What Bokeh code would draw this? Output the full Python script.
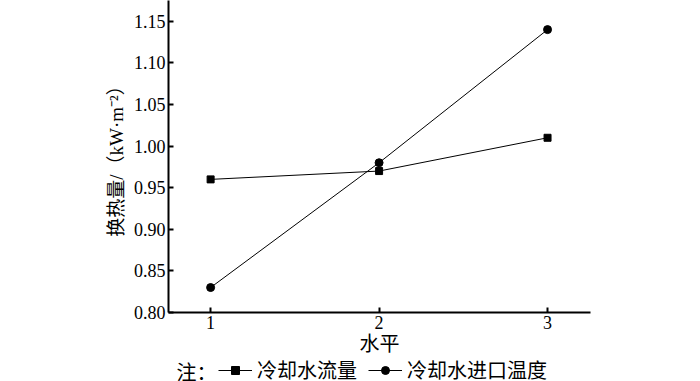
from bokeh.plotting import figure
from bokeh.layouts import column
from bokeh.models import FixedTicker, PrintfTickFormatter, Legend, LegendItem, Label, ColumnDataSource
from bokeh.embed import file_html
from bokeh.resources import INLINE

levels = [1, 2, 3]
flow_rate = [0.96, 0.97, 1.01]          # 冷却水流量
inlet_temp = [0.83, 0.98, 1.14]         # 冷却水进口温度
y_ticks = [0.80, 0.85, 0.90, 0.95, 1.00, 1.05, 1.10, 1.15]
x_label = "水平"
y_label = "换热量/（kW·m⁻²）"
series_names = ["冷却水流量", "冷却水进口温度"]
note_text = "注："

SERIF = "'Liberation Serif', 'Times New Roman', serif"
MIXED = "'Liberation Serif', 'Noto Sans CJK SC', serif"
CJK = "'Noto Sans CJK SC', sans-serif"

p = figure(width=700, height=358, x_range=(0.75, 3.255), y_range=(0.80, 1.175),
           output_backend="svg", toolbar_location=None,
           min_border_left=168, min_border_right=110, min_border_top=0, min_border_bottom=46)
p.outline_line_color = None
p.xgrid.visible = False
p.ygrid.visible = False

src1 = ColumnDataSource(dict(x=levels, y=flow_rate))
src2 = ColumnDataSource(dict(x=levels, y=inlet_temp))
p.line("x", "y", source=src1, line_color="black", line_width=1)
p.scatter("x", "y", source=src1, marker="square", size=7, fill_color="black", line_color="black")
p.line("x", "y", source=src2, line_color="black", line_width=1)
p.scatter("x", "y", source=src2, marker="circle", size=8, fill_color="black", line_color="black")

for ax in (p.xaxis[0], p.yaxis[0]):
    ax.axis_line_color = "black"
    ax.axis_line_width = 2
    ax.major_tick_line_color = "black"
    ax.major_tick_line_width = 2
    ax.major_tick_in = 5
    ax.major_tick_out = 0
    ax.minor_tick_line_color = None
    ax.major_label_text_font = SERIF
    ax.major_label_text_font_size = "18px"
    ax.major_label_text_color = "black"
    ax.axis_label_text_font = MIXED
    ax.axis_label_text_font_style = "normal"
    ax.axis_label_text_color = "black"

p.xaxis.ticker = FixedTicker(ticks=levels)
p.yaxis.ticker = FixedTicker(ticks=y_ticks)
p.yaxis.formatter = PrintfTickFormatter(format="%.2f")
p.xaxis.major_label_standoff = 3
p.yaxis.major_label_standoff = 3
p.xaxis.axis_label = x_label
p.xaxis.axis_label_text_font_size = "20px"
p.xaxis.axis_label_standoff = 1
p.yaxis.axis_label = y_label
p.yaxis.axis_label_text_font_size = "19px"
p.yaxis.axis_label_standoff = 4

# legend strip below the chart (its frame is aligned with the chart frame: x 168..590)
lf = figure(width=700, height=23, x_range=(0, 422), y_range=(0, 23),
            output_backend="svg", toolbar_location=None,
            x_axis_type=None, y_axis_type=None,
            min_border_left=168, min_border_right=110, min_border_top=0, min_border_bottom=0)
lf.outline_line_color = None
lf.xgrid.visible = False
lf.ygrid.visible = False
nan = float("nan")
proxy1 = ColumnDataSource(dict(x=[nan], y=[nan]))
proxy2 = ColumnDataSource(dict(x=[nan], y=[nan]))
g1 = lf.line("x", "y", source=proxy1, line_color="black", line_width=1)
s1 = lf.scatter("x", "y", source=proxy1, marker="square", size=7, fill_color="black", line_color="black")
g2 = lf.line("x", "y", source=proxy2, line_color="black", line_width=1)
s2 = lf.scatter("x", "y", source=proxy2, marker="circle", size=8, fill_color="black", line_color="black")

legend = Legend(items=[LegendItem(label=series_names[0], renderers=[g1, s1]),
                       LegendItem(label=series_names[1], renderers=[g2, s2])],
                orientation="horizontal", location=(50, -3),
                label_text_font=CJK, label_text_font_size="20px", label_text_color="black",
                glyph_width=34, glyph_height=20, label_height=20, label_standoff=5,
                spacing=11, padding=0, margin=0,
                border_line_color=None, background_fill_alpha=0)
lf.add_layout(legend)
lf.add_layout(Label(x=8, y=10, x_units="screen", y_units="screen", text=note_text,
                    text_font=CJK, text_font_size="20px", text_color="black",
                    text_baseline="middle", text_align="left"))

layout = column(p, lf, spacing=0)
open("out.html", "w").write(file_html(layout, INLINE))
